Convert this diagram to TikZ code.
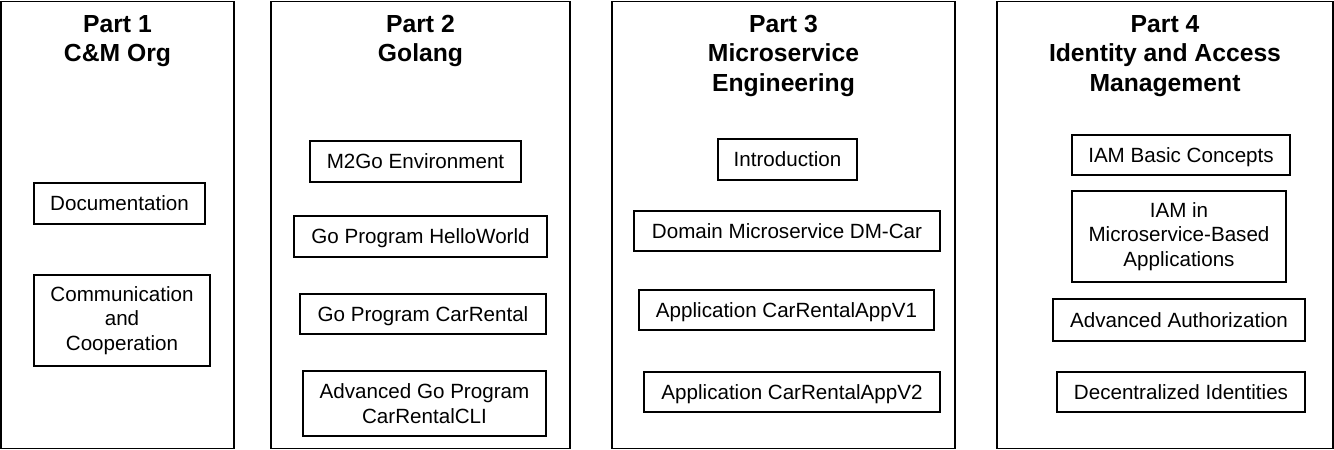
\documentclass[tikz,border=0pt]{standalone}
\usepackage{fontspec}
\setmainfont{Liberation Sans}
\begin{document}
\begin{tikzpicture}[x=1pt,y=-1pt,
  part/.style={draw=black,line width=1.8pt},
  title/.style={anchor=north,align=center,inner sep=0pt,font=\fontsize{24.7}{29.5}\selectfont\bfseries},
  item/.style={draw=black,line width=1.6pt,align=center,inner sep=0pt,font=\fontsize{20.6}{24.6}\selectfont},
  oneline/.style={text height=14.7pt,text depth=0pt}]
\useasboundingbox (0,0) rectangle (1334,450);
% helper: item box from corners
\newcommand{\itembox}[7][]{\node[item,#1,minimum width={#4-#2},minimum height={#5-#3}] (#6) at ({(#2+#4)/2},{(#3+#5)/2}) {#7};}
% part frames
\node[part,minimum width=233pt,minimum height=447pt,inner sep=0pt] (p1) at (117.5,225) {};
\node[part,minimum width=299pt,minimum height=447pt,inner sep=0pt] (p2) at (420.5,225) {};
\node[part,minimum width=343pt,minimum height=447pt,inner sep=0pt] (p3) at (783.5,225) {};
\node[part,minimum width=336pt,minimum height=447pt,inner sep=0pt] (p4) at (1165,225) {};
% titles
\node[title] (t1) at (117.5,15) {Part 1\\C\&M Org};
\node[title] (t2) at (420.5,15) {Part 2\\Golang};
\node[title] (t3) at (783.5,15) {Part 3\\Microservice\\Engineering};
\node[title] (t4) at (1165,15) {Part 4\\Identity and Access\\Management};
% part 1
\itembox[oneline]{34}{183}{205}{224}{a1}{Documentation}
\itembox{34}{275}{210}{366}{a2}{Communication\\and\\Cooperation}
% part 2
\itembox[oneline]{310}{141}{521}{182}{b1}{M2Go Environment}
\itembox[oneline]{294}{216}{547}{257}{b2}{Go Program HelloWorld}
\itembox[oneline]{300}{294}{546}{334}{b3}{Go Program CarRental}
\itembox{303}{371}{546}{436}{b4}{Advanced Go Program\\CarRentalCLI}
% part 3
\itembox[oneline]{718}{139}{857}{180}{c1}{Introduction}
\itembox[oneline]{634}{211}{940}{251}{c2}{Domain Microservice DM-Car}
\itembox[oneline]{639}{290}{934}{330}{c3}{Application CarRentalAppV1}
\itembox[oneline]{644}{372}{940}{412}{c4}{Application CarRentalAppV2}
% part 4
\itembox[oneline]{1072}{135}{1290}{175}{d1}{IAM Basic Concepts}
\itembox{1072}{191}{1286}{282}{d2}{IAM in\\Microservice-Based\\Applications}
\itembox[oneline]{1053}{299}{1305}{341}{d3}{Advanced Authorization}
\itembox[oneline]{1057}{372}{1305}{412}{d4}{Decentralized Identities}
\end{tikzpicture}
\end{document}
